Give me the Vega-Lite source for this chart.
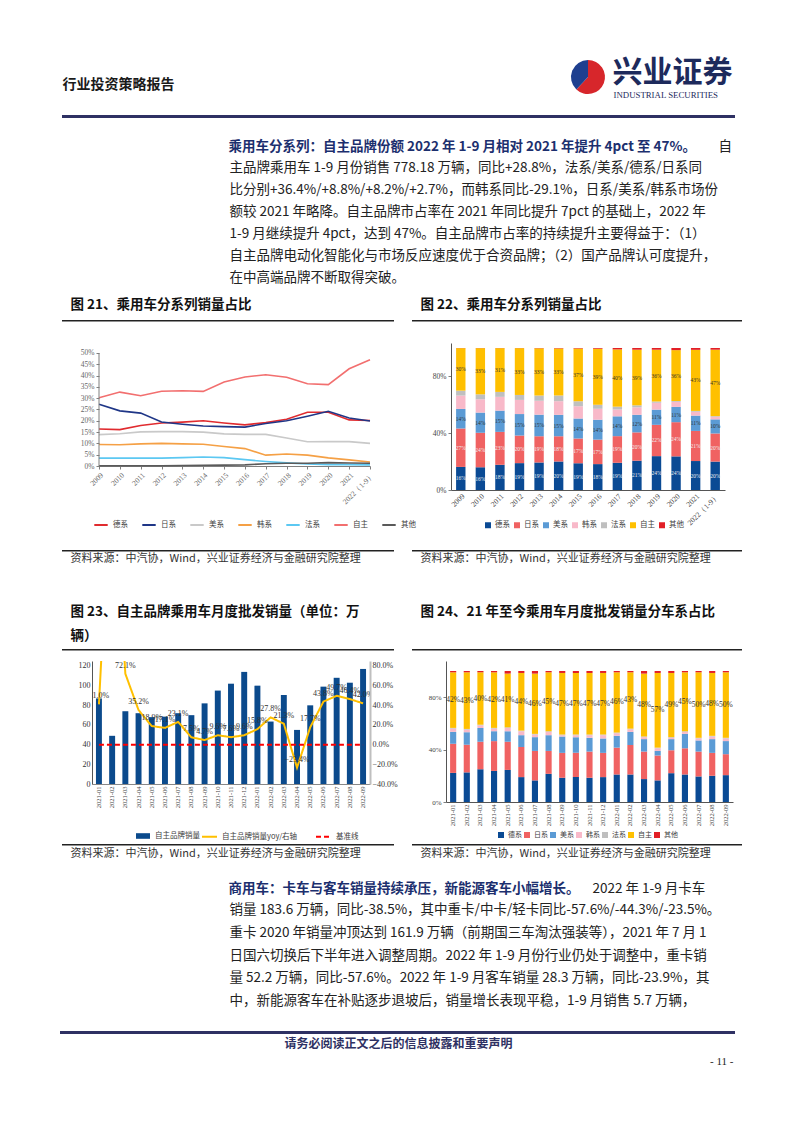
{
"$schema":"https://vega.github.io/schema/vega-lite/v6.json",
"padding":0,"background":"white",
"config":{"view":{"stroke":null},"concat":{"spacing":0},
"axis":{"labelFont":"Liberation Serif","labelColor":"#555","labelFontSize":7.5,"domainColor":"#7f7f7f","tickColor":"#7f7f7f","tickSize":3,"grid":false,"labelPadding":2,"labelOverlap":false},
"legend":{"labelFont":"Noto Sans CJK SC","labelFontSize":7.5,"labelColor":"#404040"},
"text":{"font":"Noto Sans CJK SC"}},
"datasets":{
"share":[
{"年份":"2009","德系":0.164,"日系":0.273,"美系":0.139,"韩系":0.095,"法系":0.035,"自主":0.302,"其他":0.001},
{"年份":"2010","德系":0.161,"日系":0.244,"美系":0.143,"韩系":0.094,"法系":0.035,"自主":0.327,"其他":0.001},
{"年份":"2011","德系":0.179,"日系":0.234,"美系":0.151,"韩系":0.098,"法系":0.035,"自主":0.311,"其他":0.001},
{"年份":"2012","德系":0.19,"日系":0.195,"美系":0.152,"韩系":0.1,"法系":0.035,"自主":0.331,"其他":0.001},
{"年份":"2013","德系":0.194,"日系":0.185,"美系":0.152,"韩系":0.098,"法系":0.037,"自主":0.333,"其他":0.002},
{"年份":"2014","德系":0.2,"日系":0.177,"美系":0.15,"韩系":0.096,"法系":0.04,"自主":0.33,"其他":0.003},
{"年份":"2015","德系":0.19,"日系":0.174,"美系":0.142,"韩系":0.086,"法系":0.037,"自主":0.372,"其他":0.004},
{"年份":"2016","德系":0.182,"日系":0.172,"美系":0.14,"韩系":0.077,"法系":0.028,"自主":0.394,"其他":0.005},
{"年份":"2017","德系":0.192,"日系":0.188,"美系":0.14,"韩系":0.048,"法系":0.02,"自主":0.404,"其他":0.01},
{"年份":"2018","德系":0.207,"日系":0.2,"美系":0.124,"韩系":0.053,"法系":0.014,"自主":0.393,"其他":0.012},
{"年份":"2019","德系":0.238,"日系":0.22,"美系":0.107,"韩系":0.048,"法系":0.009,"自主":0.364,"其他":0.012},
{"年份":"2020","德系":0.238,"日系":0.242,"美系":0.108,"韩系":0.036,"法系":0.006,"自主":0.36,"其他":0.015},
{"年份":"2021","德系":0.204,"日系":0.212,"美系":0.108,"韩系":0.027,"法系":0.006,"自主":0.43,"其他":0.013},
{"年份":"2022（1-9）","德系":0.201,"日系":0.199,"美系":0.1,"韩系":0.018,"法系":0.005,"自主":0.47,"其他":0.012}],
"monthly":[
{"月份":"2021-01","德系":0.22,"日系":0.22,"美系":0.09,"韩系":0.025,"法系":0.005,"自主":0.42,"其他":0.01},
{"月份":"2021-02","德系":0.225,"日系":0.21,"美系":0.095,"韩系":0.02,"法系":0.005,"自主":0.43,"其他":0.01},
{"月份":"2021-03","德系":0.25,"日系":0.21,"美系":0.105,"韩系":0.02,"法系":0.005,"自主":0.4,"其他":0.01},
{"月份":"2021-04","德系":0.235,"日系":0.225,"美系":0.075,"韩系":0.02,"法系":0.005,"自主":0.42,"其他":0.01},
{"月份":"2021-05","德系":0.245,"日系":0.215,"美系":0.08,"韩系":0.025,"法系":0.005,"自主":0.41,"其他":0.02},
{"月份":"2021-06","德系":0.19,"日系":0.23,"美系":0.09,"韩系":0.03,"法系":0.005,"自主":0.44,"其他":0.015},
{"月份":"2021-07","德系":0.165,"日系":0.225,"美系":0.105,"韩系":0.02,"法系":0.005,"自主":0.46,"其他":0.02},
{"月份":"2021-08","德系":0.215,"日系":0.175,"美系":0.12,"韩系":0.025,"法系":0.005,"自主":0.45,"其他":0.01},
{"月份":"2021-09","德系":0.185,"日系":0.19,"美系":0.125,"韩系":0.01,"法系":0.005,"自主":0.47,"其他":0.015},
{"月份":"2021-10","德系":0.19,"日系":0.185,"美系":0.12,"韩系":0.015,"法系":0.005,"自主":0.47,"其他":0.015},
{"月份":"2021-11","德系":0.185,"日系":0.2,"美系":0.105,"韩系":0.02,"法系":0.005,"自主":0.47,"其他":0.015},
{"月份":"2021-12","德系":0.19,"日系":0.185,"美系":0.11,"韩系":0.025,"法系":0.005,"自主":0.47,"其他":0.015},
{"月份":"2022-01","德系":0.21,"日系":0.205,"美系":0.09,"韩系":0.02,"法系":0.005,"自主":0.46,"其他":0.01},
{"月份":"2022-02","德系":0.21,"日系":0.225,"美系":0.1,"韩系":0.02,"法系":0.005,"自主":0.43,"其他":0.01},
{"月份":"2022-03","德系":0.175,"日系":0.21,"美系":0.095,"韩系":0.015,"法系":0.005,"自主":0.48,"其他":0.02},
{"月份":"2022-04","德系":0.165,"日系":0.19,"美系":0.035,"韩系":0.02,"法系":0.005,"自主":0.57,"其他":0.015},
{"月份":"2022-05","德系":0.22,"日系":0.175,"美系":0.085,"韩系":0.01,"法系":0.005,"自主":0.49,"其他":0.015},
{"月份":"2022-06","德系":0.21,"日系":0.2,"美系":0.11,"韩系":0.015,"法系":0.005,"自主":0.45,"其他":0.01},
{"月份":"2022-07","德系":0.195,"日系":0.19,"美系":0.085,"韩系":0.015,"法系":0.005,"自主":0.5,"其他":0.01},
{"月份":"2022-08","德系":0.2,"日系":0.175,"美系":0.105,"韩系":0.02,"法系":0.005,"自主":0.48,"其他":0.015},
{"月份":"2022-09","德系":0.205,"日系":0.16,"美系":0.1,"韩系":0.02,"法系":0.005,"自主":0.5,"其他":0.01}],
"sales":[
{"月份":"2021-01","销量":87,"同比":0.41,"基准线":0},
{"月份":"2021-02","销量":49,"同比":3.0,"基准线":0},
{"月份":"2021-03","销量":74,"同比":0.721,"基准线":0},
{"月份":"2021-04","销量":72,"同比":0.352,"基准线":0},
{"月份":"2021-05","销量":68,"同比":0.189,"基准线":0},
{"月份":"2021-06","销量":68.5,"同比":0.171,"基准线":0},
{"月份":"2021-07","销量":72,"同比":0.231,"基准线":0},
{"月份":"2021-08","销量":70,"同比":0.075,"基准线":0},
{"月份":"2021-09","销量":82,"同比":0.047,"基准线":0},
{"月份":"2021-10","销量":95,"同比":0.096,"基准线":0},
{"月份":"2021-11","销量":102,"同比":0.076,"基准线":0},
{"月份":"2021-12","销量":114,"同比":0.096,"基准线":0},
{"月份":"2022-01","销量":100,"同比":0.158,"基准线":0},
{"月份":"2022-02","销量":63.5,"同比":0.278,"基准线":0},
{"月份":"2022-03","销量":90.5,"同比":0.213,"基准线":0},
{"月份":"2022-04","销量":55,"同比":-0.234,"基准线":0},
{"月份":"2022-05","销量":80,"同比":0.177,"基准线":0},
{"月份":"2022-06","销量":99,"同比":0.438,"基准线":0},
{"月份":"2022-07","销量":108,"同比":0.497,"基准线":0},
{"月份":"2022-08","销量":103,"同比":0.464,"基准线":0},
{"月份":"2022-09","销量":117,"同比":0.42,"基准线":0}]
},
"spacing":0,
"resolve":{"scale":{"color":"independent","fill":"independent","stroke":"independent","strokeDash":"independent","theta":"independent"},"legend":{"color":"independent","fill":"independent","stroke":"independent","strokeDash":"independent"}},
"vconcat":[
{"width":794,"height":55,"data":{"values":[]},"mark":"point","view":{"fill":"white"}},
{"hconcat":[
 {"width":62,"height":60,"data":{"values":[]},"mark":"point"},
 {"width":1,"height":2,"data":{"values":[{"t":"行业投资策略报告"}]},"mark":{"type":"text","align":"left","baseline":"line-top","lineHeight":58,"fontSize":14,"fontWeight":"bold","color":"#1a1a1a"},"encoding":{"text":{"field":"t","type":"nominal"}}},
 {"width":507,"height":1,"data":{"values":[]},"mark":"point"},
 {"width":36,"height":44,"data":{"values":[{"部分":"红","值":62},{"部分":"蓝","值":38}]},"mark":{"type":"arc","radius":17},"encoding":{"theta":{"field":"值","type":"quantitative"},"color":{"field":"部分","type":"nominal","scale":{"domain":["红","蓝"],"range":["#d7262b","#1e3f8f"]},"legend":null}}},
 {"width":6,"height":1,"data":{"values":[]},"mark":"point"},
 {"width":1,"height":2,"data":{"values":[{"t":"兴业证券"}]},"mark":{"type":"text","align":"left","baseline":"line-top","lineHeight":34,"fontSize":30,"fontWeight":"bold","color":"#1d2a5c"},"encoding":{"text":{"field":"t","type":"nominal"}}},
 {"width":1,"height":2,"data":{"values":[{"t":"INDUSTRIAL SECURITIES"}]},"mark":{"type":"text","align":"left","baseline":"line-top","lineHeight":78,"font":"Liberation Serif","fontSize":8.8,"color":"#1d2a5c"},"encoding":{"text":{"field":"t","type":"nominal"}}}
],"spacing":0,"bounds":"flush","resolve":{"scale":{"color":"independent","theta":"independent"}}},
{"hconcat":[
 {"width":62,"height":3,"data":{"values":[]},"mark":"point"},
 {"width":673,"height":3,"data":{"values":[]},"mark":"point","view":{"fill":"#2e3163","stroke":null}}
],"spacing":0,"bounds":"flush"},
{"hconcat":[
 {"width":228,"height":174,"data":{"values":[]},"mark":"point"},
 {"width":1,"height":35.4,"data":{"values":[{"t":"乘用车分系列：自主品牌份额 2022 年 1-9 月相对 2021 年提升 4pct 至 47%。"}]},"mark":{"type":"text","align":"left","baseline":"line-top","lineHeight":22,"fontSize":13.5,"fontWeight":"bold","color":"#1c2f6e"},"encoding":{"text":{"field":"t","type":"nominal"}}},
 {"width":1,"height":78.7,"data":{"values":[{"t":"主品牌乘用车 1-9 月份销售 778.18 万辆，同比+28.8%，法系/美系/德系/日系同\n比分别+36.4%/+8.8%/+8.2%/+2.7%，而韩系同比-29.1%，日系/美系/韩系市场份\n额较 2021 年略降。自主品牌市占率在 2021 年同比提升 7pct 的基础上，2022 年\n1-9 月继续提升 4pct，达到 47%。自主品牌市占率的持续提升主要得益于：（1）\n自主品牌电动化智能化与市场反应速度优于合资品牌；（2）国产品牌认可度提升，\n在中高端品牌不断取得突破。"}]},"mark":{"type":"text","align":"left","baseline":"line-top","lineBreak":"\n","lineHeight":21.9,"fontSize":13.5,"color":"#222"},"encoding":{"text":{"field":"t","type":"nominal"}}},
 {"width":488,"height":1,"data":{"values":[]},"mark":"point"},
 {"width":1,"height":35.4,"data":{"values":[{"t":"自"}]},"mark":{"type":"text","align":"left","baseline":"line-top","lineHeight":22,"fontSize":13.5,"color":"#222"},"encoding":{"text":{"field":"t","type":"nominal"}}}
],"spacing":0,"bounds":"flush"},
{"hconcat":[
 {"width":70,"height":27.25,"data":{"values":[]},"mark":"point"},
 {"width":1,"height":26,"data":{"values":[{"t":"图 21、乘用车分系列销量占比"}]},"mark":{"type":"text","align":"left","baseline":"middle","fontSize":13.5,"fontWeight":"bold","color":"#111"},"encoding":{"text":{"field":"t","type":"nominal"}}},
 {"width":349,"height":1,"data":{"values":[]},"mark":"point"},
 {"width":1,"height":26,"data":{"values":[{"t":"图 22、乘用车分系列销量占比"}]},"mark":{"type":"text","align":"left","baseline":"middle","fontSize":13.5,"fontWeight":"bold","color":"#111"},"encoding":{"text":{"field":"t","type":"nominal"}}}
],"spacing":0,"bounds":"flush"},
{"hconcat":[
 {"width":62,"height":1.5,"data":{"values":[]},"mark":"point"},
 {"width":332,"height":1.5,"data":{"values":[]},"mark":"point","view":{"fill":"#222","stroke":null}},
 {"width":18,"height":1.5,"data":{"values":[]},"mark":"point"},
 {"width":330,"height":1.5,"data":{"values":[]},"mark":"point","view":{"fill":"#222","stroke":null}}
],"spacing":0,"bounds":"flush"},
{"width":1,"height":20.25,"data":{"values":[]},"mark":"point"},
{"hconcat":[
 {"width":99,"height":206.25,"data":{"values":[]},"mark":"point"},
 {"width":271,"height":123,
  "encoding":{"x":{"field":"年份","type":"ordinal","sort":null,"scale":{"type":"point","padding":0},"axis":{"title":null,"labelAngle":-45,"labelColor":"#666"}}},
  "layer":[
   {"data":{"name":"share"},
    "transform":[{"fold":["德系","日系","美系","韩系","法系","自主","其他"],"as":["系别","占比"]}],
    "mark":{"type":"line","strokeWidth":1.6},
    "encoding":{
     "y":{"field":"占比","type":"quantitative","scale":{"domain":[0,0.5442],"nice":false},"axis":{"title":null,"format":".0%","values":[0,0.05,0.1,0.15,0.2,0.25,0.3,0.35,0.4,0.45,0.5],"labelColor":"#666","domain":false}},
     "color":{"field":"系别","type":"nominal","scale":{"domain":["德系","日系","美系","韩系","法系","自主","其他"],"range":["#e02b2f","#1f3687","#c9c9c9","#f5a045","#5cc8f2","#f26f6f","#5a5a5a"]},
      "legend":{"title":null,"orient":"none","legendX":-6,"legendY":174,"direction":"horizontal","columns":7,"symbolType":"stroke","symbolSize":180,"symbolStrokeWidth":2,"columnPadding":10,"labelOffset":4}}}},
   {"data":{"values":[{}]},
    "mark":{"type":"rule","color":"#7f7f7f","strokeWidth":1},
    "encoding":{"x":{"datum":"2009","type":"ordinal"},
     "y":{"datum":0,"type":"quantitative","scale":{"domain":[0,0.5442],"nice":false},"axis":{"title":null,"format":".0%","values":[0,0.05,0.1,0.15,0.2,0.25,0.3,0.35,0.4,0.45,0.5],"labelColor":"#666","domain":false}},
     "y2":{"datum":0.5}}}
  ]},
 {"width":81,"height":1,"data":{"values":[]},"mark":"point"},
 {"width":274,"height":147,"data":{"name":"share"},
  "transform":[
   {"fold":["德系","日系","美系","韩系","法系","自主","其他"],"as":["系别","占比"]},
   {"calculate":"indexof(['德系','日系','美系','韩系','法系','自主','其他'], datum['系别'])","as":"序"},
   {"stack":"占比","groupby":["年份"],"sort":[{"field":"序","order":"ascending"}],"offset":"normalize","as":["y0","y1"]},
   {"calculate":"(datum.y0+datum.y1)/2","as":"mid"}],
  "encoding":{"x":{"field":"年份","type":"ordinal","sort":null,"scale":{"paddingInner":0.52,"paddingOuter":0.26},"axis":{"title":null,"labelAngle":-45,"labelColor":"#444","ticks":false,"domainColor":"#555"}}},
  "layer":[
   {"mark":{"type":"bar"},"encoding":{
     "y":{"field":"y0","type":"quantitative","stack":null,"scale":{"domain":[0,1.0352],"nice":false},"axis":{"title":null,"format":".0%","values":[0,0.1,0.2,0.3,0.4,0.5,0.6,0.7,0.8,0.9,1],"labelColor":"#444","domainColor":"#555"}},
     "y2":{"field":"y1"},
     "color":{"field":"系别","type":"nominal","scale":{"domain":["德系","日系","美系","韩系","法系","自主","其他"],"range":["#0a4a94","#f06262","#5b9bd5","#f8b9c9","#bfbfbf","#ffc000","#e21f26"]},
      "legend":{"title":null,"orient":"none","legendX":33,"legendY":178,"direction":"horizontal","columns":7,"symbolType":"square","symbolSize":36,"columnPadding":3,"labelOffset":3}}}},
   {"transform":[{"filter":{"field":"系别","oneOf":["德系","日系","美系","自主"]}}],
    "mark":{"type":"text","font":"Liberation Serif","fontSize":5.5},
    "encoding":{"y":{"field":"mid","type":"quantitative","stack":null},"text":{"field":"占比","type":"quantitative","format":".0%"},
     "color":{"condition":{"test":"datum['系别'] === '德系' || datum['系别'] === '日系'","value":"#eeeeee"},"value":"#333333"}}}
  ]}
],"spacing":0,"bounds":"flush","resolve":{"scale":{"color":"independent"},"legend":{"color":"independent"}}},
{"hconcat":[
 {"width":62,"height":1.5,"data":{"values":[]},"mark":"point"},
 {"width":332,"height":1.5,"data":{"values":[]},"mark":"point","view":{"fill":"#222","stroke":null}},
 {"width":18,"height":1.5,"data":{"values":[]},"mark":"point"},
 {"width":330,"height":1.5,"data":{"values":[]},"mark":"point","view":{"fill":"#222","stroke":null}}
],"spacing":0,"bounds":"flush"},
{"hconcat":[
 {"width":70,"height":17.25,"data":{"values":[]},"mark":"point"},
 {"width":1,"height":14.5,"data":{"values":[{"t":"资料来源：中汽协，Wind，兴业证券经济与金融研究院整理"}]},"mark":{"type":"text","align":"left","baseline":"middle","fontSize":11,"color":"#333"},"encoding":{"text":{"field":"t","type":"nominal"}}},
 {"width":349,"height":1,"data":{"values":[]},"mark":"point"},
 {"width":1,"height":14.5,"data":{"values":[{"t":"资料来源：中汽协，Wind，兴业证券经济与金融研究院整理"}]},"mark":{"type":"text","align":"left","baseline":"middle","fontSize":11,"color":"#333"},"encoding":{"text":{"field":"t","type":"nominal"}}}
],"spacing":0,"bounds":"flush"},
{"hconcat":[
 {"width":70,"height":78.25,"data":{"values":[]},"mark":"point"},
 {"width":1,"height":60,"data":{"values":[{"t":"图 23、自主品牌乘用车月度批发销量（单位：万\n辆）"}]},"mark":{"type":"text","align":"left","baseline":"line-top","lineBreak":"\n","lineHeight":24,"fontSize":13.5,"fontWeight":"bold","color":"#111"},"encoding":{"text":{"field":"t","type":"nominal"}}},
 {"width":349,"height":1,"data":{"values":[]},"mark":"point"},
 {"width":1,"height":60,"data":{"values":[{"t":"图 24、21 年至今乘用车月度批发销量分车系占比"}]},"mark":{"type":"text","align":"left","baseline":"line-top","lineHeight":24,"fontSize":13.5,"fontWeight":"bold","color":"#111"},"encoding":{"text":{"field":"t","type":"nominal"}}}
],"spacing":0,"bounds":"flush"},
{"hconcat":[
 {"width":62,"height":1.5,"data":{"values":[]},"mark":"point"},
 {"width":332,"height":1.5,"data":{"values":[]},"mark":"point","view":{"fill":"#222","stroke":null}},
 {"width":18,"height":1.5,"data":{"values":[]},"mark":"point"},
 {"width":330,"height":1.5,"data":{"values":[]},"mark":"point","view":{"fill":"#222","stroke":null}}
],"spacing":0,"bounds":"flush"},
{"width":1,"height":9.25,"data":{"values":[]},"mark":"point"},
{"hconcat":[
 {"width":92,"height":182.25,"data":{"values":[]},"mark":"point"},
 {"width":278,"height":123,"data":{"name":"sales"},
  "encoding":{"x":{"field":"月份","type":"ordinal","sort":null,"scale":{"paddingInner":0.55,"paddingOuter":0.3},"axis":{"title":null,"labelAngle":-90,"labelFontSize":6.5,"labelColor":"#444","ticks":false,"domainColor":"#888"}}},
  "layer":[
   {"mark":{"type":"bar"},"encoding":{
     "y":{"field":"销量","type":"quantitative","scale":{"domain":[0,125.08],"nice":false},"axis":{"title":null,"orient":"left","values":[0,20,40,60,80,100,120],"labelFontSize":8,"labelColor":"#333","domainColor":"#555","ticks":false}},
     "fill":{"datum":"自主品牌销量","type":"nominal","scale":{"domain":["自主品牌销量"],"range":["#0b4a8c"]},"legend":{"title":null,"orient":"none","legendX":43,"legendY":167,"symbolType":"M-1,-0.4L1,-0.4L1,0.4L-1,0.4Z","symbolSize":196,"labelOffset":4}}}},
   {"layer":[
     {"transform":[{"fold":["同比","基准线"],"as":["系列","值"]}],
      "mark":{"type":"line","clip":true,"strokeWidth":2},
      "encoding":{
       "y":{"field":"值","type":"quantitative","scale":{"domain":[-0.4,0.8508],"nice":false},"axis":{"title":null,"orient":"right","format":".1%","values":[-0.4,-0.2,0,0.2,0.4,0.6,0.8],"labelFontSize":8,"labelColor":"#333","domainColor":"#bfbfbf","domainWidth":2,"ticks":false}},
       "stroke":{"field":"系列","type":"nominal","scale":{"domain":["同比","基准线"],"range":["#ffc000","#ff0000"]},"legend":{"title":null,"orient":"none","legendX":109,"legendY":167,"direction":"horizontal","columns":2,"symbolType":"stroke","symbolSize":225,"symbolStrokeWidth":2,"columnPadding":14,"labelOffset":4,"labelExpr":"datum.label === '同比' ? '自主品牌销量yoy/右轴' : datum.label"}},
       "strokeDash":{"field":"系列","type":"nominal","scale":{"domain":["同比","基准线"],"range":[[1,0],[5,3]]},"legend":{"title":null,"orient":"none","legendX":109,"legendY":167,"direction":"horizontal","columns":2,"symbolType":"stroke","symbolSize":225,"symbolStrokeWidth":2,"columnPadding":14,"labelOffset":4,"labelExpr":"datum.label === '同比' ? '自主品牌销量yoy/右轴' : datum.label"}}}},
     {"mark":{"type":"text","clip":true,"dy":-8,"font":"Liberation Serif","fontSize":8,"color":"#333"},
      "encoding":{
       "y":{"field":"同比","type":"quantitative","axis":{"title":null,"orient":"right","format":".1%","values":[-0.4,-0.2,0,0.2,0.4,0.6,0.8],"labelFontSize":8,"labelColor":"#333","domainColor":"#bfbfbf","domainWidth":2,"ticks":false}},
       "text":{"field":"同比","type":"quantitative","format":".1%"}}}
   ]}
  ],
  "resolve":{"scale":{"y":"independent"}}},
 {"width":76,"height":1,"data":{"values":[]},"mark":"point"},
 {"width":287,"height":141,"data":{"name":"monthly"},
  "transform":[
   {"fold":["德系","日系","美系","韩系","法系","自主","其他"],"as":["系别","占比"]},
   {"calculate":"indexof(['德系','日系','美系','韩系','法系','自主','其他'], datum['系别'])","as":"序"},
   {"stack":"占比","groupby":["月份"],"sort":[{"field":"序","order":"ascending"}],"offset":"normalize","as":["y0","y1"]},
   {"calculate":"(datum.y0+datum.y1)/2","as":"mid"}],
  "encoding":{"x":{"field":"月份","type":"ordinal","sort":null,"scale":{"paddingInner":0.55,"paddingOuter":0.3},"axis":{"title":null,"labelAngle":-90,"labelFontSize":6.5,"labelColor":"#444","ticks":false,"domainColor":"#555"}}},
  "layer":[
   {"mark":{"type":"bar"},"encoding":{
     "y":{"field":"y0","type":"quantitative","stack":null,"scale":{"domain":[0,1.0763],"nice":false},"axis":{"title":null,"format":".0%","values":[0,0.2,0.4,0.6,0.8,1],"labelColor":"#444","labelFontSize":7,"domainColor":"#555"}},
     "y2":{"field":"y1"},
     "color":{"field":"系别","type":"nominal","scale":{"domain":["德系","日系","美系","韩系","法系","自主","其他"],"range":["#0a4a94","#f06262","#5b9bd5","#f8b9c9","#bfbfbf","#ffc000","#e21f26"]},
      "legend":{"title":null,"orient":"none","legendX":51,"legendY":170,"direction":"horizontal","columns":7,"symbolType":"square","symbolSize":36,"columnPadding":1,"labelOffset":3,"labelFontSize":7}}}},
   {"transform":[{"filter":{"field":"系别","equal":"自主"}}],
    "mark":{"type":"text","font":"Liberation Serif","fontSize":7.5,"color":"#333"},
    "encoding":{"y":{"field":"mid","type":"quantitative","stack":null},"text":{"field":"占比","type":"quantitative","format":".0%"}}}
  ]}
],"spacing":0,"bounds":"flush","resolve":{"scale":{"color":"independent","fill":"independent","stroke":"independent","strokeDash":"independent"},"legend":{"color":"independent","fill":"independent","stroke":"independent","strokeDash":"independent"}}},
{"hconcat":[
 {"width":62,"height":1.5,"data":{"values":[]},"mark":"point"},
 {"width":332,"height":1.5,"data":{"values":[]},"mark":"point","view":{"fill":"#222","stroke":null}},
 {"width":18,"height":1.5,"data":{"values":[]},"mark":"point"},
 {"width":330,"height":1.5,"data":{"values":[]},"mark":"point","view":{"fill":"#222","stroke":null}}
],"spacing":0,"bounds":"flush"},
{"hconcat":[
 {"width":70,"height":19.25,"data":{"values":[]},"mark":"point"},
 {"width":1,"height":16.5,"data":{"values":[{"t":"资料来源：中汽协，Wind，兴业证券经济与金融研究院整理"}]},"mark":{"type":"text","align":"left","baseline":"middle","fontSize":11,"color":"#333"},"encoding":{"text":{"field":"t","type":"nominal"}}},
 {"width":349,"height":1,"data":{"values":[]},"mark":"point"},
 {"width":1,"height":16.5,"data":{"values":[{"t":"资料来源：中汽协，Wind，兴业证券经济与金融研究院整理"}]},"mark":{"type":"text","align":"left","baseline":"middle","fontSize":11,"color":"#333"},"encoding":{"text":{"field":"t","type":"nominal"}}}
],"spacing":0,"bounds":"flush"},
{"hconcat":[
 {"width":228,"height":164.5,"data":{"values":[]},"mark":"point"},
 {"width":1,"height":23,"data":{"values":[{"t":"商用车：卡车与客车销量持续承压，新能源客车小幅增长。"}]},"mark":{"type":"text","align":"left","baseline":"line-top","lineHeight":22,"fontSize":13.5,"fontWeight":"bold","color":"#1c2f6e"},"encoding":{"text":{"field":"t","type":"nominal"}}},
 {"width":1,"height":66.7,"data":{"values":[{"t":"销量 183.6 万辆，同比-38.5%，其中重卡/中卡/轻卡同比-57.6%/-44.3%/-23.5%。\n重卡 2020 年销量冲顶达到 161.9 万辆（前期国三车淘汰强装等），2021 年 7 月 1\n日国六切换后下半年进入调整周期。2022 年 1-9 月份行业仍处于调整中，重卡销\n量 52.2 万辆，同比-57.6%。2022 年 1-9 月客车销量 28.3 万辆，同比-23.9%，其\n中，新能源客车在补贴逐步退坡后，销量增长表现平稳，1-9 月销售 5.7 万辆，"}]},"mark":{"type":"text","align":"left","baseline":"line-top","lineBreak":"\n","lineHeight":22.67,"fontSize":13.5,"color":"#222"},"encoding":{"text":{"field":"t","type":"nominal"}}},
 {"width":362,"height":1,"data":{"values":[]},"mark":"point"},
 {"width":1,"height":23,"data":{"values":[{"t":"2022 年 1-9 月卡车"}]},"mark":{"type":"text","align":"left","baseline":"line-top","lineHeight":22,"fontSize":13.5,"color":"#222"},"encoding":{"text":{"field":"t","type":"nominal"}}}
],"spacing":0,"bounds":"flush"},
{"hconcat":[
 {"width":60,"height":3,"data":{"values":[]},"mark":"point"},
 {"width":675,"height":3,"data":{"values":[]},"mark":"point","view":{"fill":"#2e3163","stroke":null}}
],"spacing":0,"bounds":"flush"},
{"hconcat":[
 {"width":398,"height":39.5,"data":{"values":[]},"mark":"point"},
 {"width":1,"height":19,"data":{"values":[{"t":"请务必阅读正文之后的信息披露和重要声明"}]},"mark":{"type":"text","align":"center","baseline":"middle","fontSize":12,"fontWeight":"bold","color":"#2e3163"},"encoding":{"text":{"field":"t","type":"nominal"}}},
 {"width":334,"height":1,"data":{"values":[]},"mark":"point"},
 {"width":1,"height":2,"data":{"values":[{"t":"- 11 -"}]},"mark":{"type":"text","align":"right","baseline":"line-top","lineHeight":53,"font":"Liberation Serif","fontSize":11,"color":"#222"},"encoding":{"text":{"field":"t","type":"nominal"}}}
],"spacing":0,"bounds":"flush"}
]
}
